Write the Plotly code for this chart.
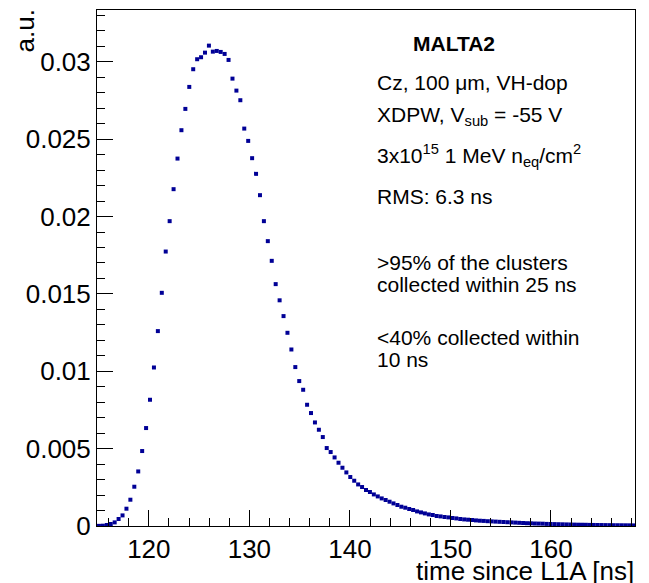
import numpy as np
import plotly.graph_objects as go

# Histogram binning (MALTA time bins of 3.125/8 ns)
bin_width = 0.390625
x_low = 114.84375
n_bins = 137

# Normalised entries per bin (a.u.)
values = [
    0.00001, 0.00002, 0.000065, 0.000129, 0.000233, 0.000452, 0.000685, 0.001118,
    0.001699, 0.002539, 0.003527, 0.004845, 0.006331, 0.008159, 0.010245, 0.012597,
    0.015071, 0.017739, 0.019703, 0.021770, 0.023747, 0.025581, 0.026958, 0.028379,
    0.029522, 0.030168, 0.030297, 0.030594, 0.031047, 0.030659, 0.030704, 0.030640,
    0.030511, 0.030123, 0.028915, 0.028140, 0.027519, 0.025685, 0.024890, 0.023773,
    0.022759, 0.021382, 0.019703, 0.018411, 0.017138, 0.015633, 0.014587, 0.013566,
    0.012487, 0.011408, 0.010271, 0.009367, 0.008805, 0.007836, 0.007300, 0.006693,
    0.006221, 0.005749, 0.005039, 0.004780, 0.004432, 0.004089, 0.003766, 0.003463,
    0.003165, 0.002926, 0.002687, 0.002519, 0.002326, 0.002196, 0.002041, 0.001912,
    0.001783, 0.001680, 0.001570, 0.001460, 0.001357, 0.001247, 0.001182, 0.001098,
    0.001034, 0.000943, 0.000879, 0.000814, 0.000749, 0.000711, 0.000646, 0.000620,
    0.000581, 0.000556, 0.000517, 0.000491, 0.000452, 0.000426, 0.000407, 0.000388,
    0.000362, 0.000342, 0.000329, 0.000310, 0.000297, 0.000284, 0.000271, 0.000258,
    0.000245, 0.000233, 0.000220, 0.000207, 0.000194, 0.000181, 0.000174, 0.000161,
    0.000155, 0.000149, 0.000136, 0.000129, 0.000123, 0.000116, 0.000110, 0.000103,
    0.000097, 0.000090, 0.000084, 0.000082, 0.000078, 0.000071, 0.000068, 0.000065,
    0.000062, 0.000058, 0.000055, 0.000052, 0.000050, 0.000048, 0.000045, 0.000043,
    0.000041,
]

bin_centers = x_low + (np.arange(n_bins) + 0.5) * bin_width

x_title = "time since L1A [ns]"
y_title = "a.u."
info_lines = [
    ("<b>MALTA2</b>", 410.5, 43),
    ("Cz, 100 μm, VH-dop", 375, 82.5),
    ("XDPW, V<sub>sub</sub> = -55 V", 375, 116),
    ("3x10<sup>15</sup> 1 MeV n<sub>eq</sub>/cm<sup>2</sup>", 375, 155.5),
    ("RMS: 6.3 ns", 375, 196),
    (">95% of the clusters", 375, 262.5),
    ("collected within 25 ns", 375, 284.5),
    ("<40% collected within", 375, 337.5),
    ("10 ns", 375, 359.5),
]

W, H = 649, 583
L, R, T, B = 97, 14, 10, 57
PW, PH = W - L - R, H - T - B

def px(xp):
    return (xp - L) / PW

def py(yp):
    return (H - B - yp) / PH

FONT = "Liberation Sans, Arial, Helvetica, sans-serif"

fig = go.Figure()
fig.add_trace(go.Scatter(
    x=bin_centers, y=values, mode="markers",
    marker=dict(symbol="square", size=4, color="#000096", line=dict(width=0)),
    showlegend=False,
))

annotations = []
for txt, xp, yp in info_lines:
    annotations.append(dict(
        text=txt, xref="paper", yref="paper", x=px(xp), y=py(yp),
        xanchor="left", yanchor="middle", showarrow=False,
        font=dict(family=FONT, size=21, color="black"),
    ))
annotations.append(dict(
    text=x_title, xref="paper", yref="paper", x=px(635.5), y=py(571),
    xanchor="right", yanchor="middle", showarrow=False,
    font=dict(family=FONT, size=26, color="black"),
))
annotations.append(dict(
    text=y_title, xref="paper", yref="paper", x=px(24), y=py(8),
    xanchor="center", yanchor="top", showarrow=False, textangle=-90,
    font=dict(family=FONT, size=26, color="black"),
))

fig.update_layout(
    width=W, height=H,
    margin=dict(l=L, r=R, t=T, b=B, pad=0),
    paper_bgcolor="white", plot_bgcolor="white",
    font=dict(family=FONT, size=26, color="black"),
    annotations=annotations,
    xaxis=dict(
        range=[x_low, x_low + n_bins * bin_width],
        tick0=120, dtick=10, ticks="inside", ticklen=16, tickwidth=1,
        tickcolor="black", showgrid=False, zeroline=False,
        showline=True, linecolor="black", linewidth=1, mirror=True,
        tickfont=dict(family=FONT, size=26),
        minor=dict(dtick=2, tick0=120, ticks="inside", ticklen=8,
                   tickcolor="black", tickwidth=1, showgrid=False),
    ),
    yaxis=dict(
        range=[0, 0.03335],
        tick0=0, dtick=0.005, ticks="inside", ticklen=16, tickwidth=1,
        tickcolor="black", showgrid=False, zeroline=False,
        showline=True, linecolor="black", linewidth=1, mirror=True,
        tickfont=dict(family=FONT, size=26),
        minor=dict(dtick=0.001, tick0=0, ticks="inside", ticklen=8,
                   tickcolor="black", tickwidth=1, showgrid=False),
    ),
)

fig.write_html(
    "out.html",
    config={"displayModeBar": False},
    post_script="document.body.style.margin='0';document.body.style.overflow='hidden';",
)
